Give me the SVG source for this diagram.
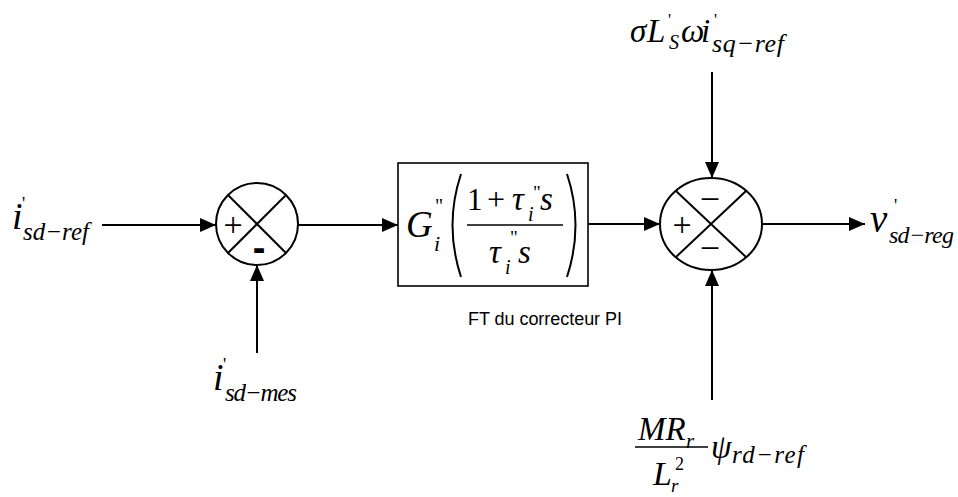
<svg xmlns="http://www.w3.org/2000/svg" width="958" height="497" viewBox="0 0 958 497">
<defs>
<marker id="ah" markerWidth="16" markerHeight="14" refX="16" refY="7" orient="auto" markerUnits="userSpaceOnUse"><path d="M0,0 L16,7 L0,14 z" fill="#000"/></marker>
<style>
.m{font-family:"Liberation Serif","Times New Roman",serif;font-style:italic;fill:#000}
.u{font-family:"Liberation Serif","Times New Roman",serif;font-style:normal;fill:#000}
.s{font-family:"Liberation Sans",Arial,sans-serif;fill:#000}
.ln{stroke:#000;stroke-width:2;fill:none}
.sh{stroke:#000;stroke-width:2;fill:#fff}
</style>
</defs>
<rect width="958" height="497" fill="#fff"/>
<g id="connectors">
<line class="ln" x1="102" y1="225" x2="216" y2="225" marker-end="url(#ah)"/>
<line class="ln" x1="257" y1="353" x2="257" y2="265" marker-end="url(#ah)"/>
<line class="ln" x1="298" y1="225" x2="398" y2="225" marker-end="url(#ah)"/>
<line class="ln" x1="588" y1="224" x2="660" y2="224" marker-end="url(#ah)"/>
<line class="ln" x1="712" y1="72" x2="712" y2="178" marker-end="url(#ah)"/>
<line class="ln" x1="712" y1="400" x2="712" y2="270" marker-end="url(#ah)"/>
<line class="ln" x1="763" y1="224" x2="865" y2="224" marker-end="url(#ah)"/>
</g>
<g id="in-ref">
<text class="m" x="12" y="229" font-size="38">i</text>
<text class="u" x="22" y="210" font-size="18">'</text>
<text class="m" x="23" y="240" font-size="25" textLength="66">sd−ref</text>
</g>
<g id="in-mes">
<text class="m" x="213" y="390" font-size="38">i</text>
<text class="u" x="223" y="371" font-size="18">'</text>
<text class="m" x="225" y="401" font-size="25" textLength="72">sd−mes</text>
</g>
<g id="sum1">
<circle class="sh" cx="257" cy="224" r="41"/>
<line class="ln" x1="228" y1="195" x2="286" y2="253"/>
<line class="ln" x1="286" y1="195" x2="228" y2="253"/>
<text class="u" x="233" y="236" font-size="34" text-anchor="middle">+</text>
<text class="s" x="259" y="261" font-size="38" font-weight="bold" text-anchor="middle">-</text>
</g>
<g id="pi">
<rect x="398" y="163" width="190" height="123" fill="#fff" stroke="#000" stroke-width="1.6"/>
<text class="m" x="406" y="237" font-size="37">G</text>
<text class="u" x="435" y="213" font-size="20">"</text>
<text class="m" x="434" y="251" font-size="22">i</text>
<path d="M461,174 Q444,225 461,277" class="ln" stroke-width="2.2"/>
<path d="M567,174 Q584,225 567,277" class="ln" stroke-width="2.2"/>
<text class="u" x="467" y="210" font-size="31">1</text>
<text class="u" x="487" y="210" font-size="32">+</text>
<text class="m" x="512" y="210" font-size="33">τ</text>
<text class="u" x="533" y="199" font-size="19">"</text>
<text class="m" x="528" y="221" font-size="20">i</text>
<text class="m" x="540" y="210" font-size="33">s</text>
<line x1="467" y1="225" x2="563" y2="225" stroke="#000" stroke-width="1.5"/>
<text class="m" x="489" y="263" font-size="33">τ</text>
<text class="u" x="510" y="244" font-size="19">"</text>
<text class="m" x="505" y="274" font-size="20">i</text>
<text class="m" x="518" y="263" font-size="33">s</text>
</g>
<g id="caption">
<text class="s" x="468" y="325" font-size="18" textLength="154">FT du correcteur PI</text>
</g>
<g id="sum2">
<ellipse class="sh" cx="711" cy="224" rx="51" ry="46"/>
<line class="ln" x1="676" y1="191" x2="746" y2="257"/>
<line class="ln" x1="746" y1="191" x2="676" y2="257"/>
<text class="u" x="682" y="236" font-size="34" text-anchor="middle">+</text>
<text class="u" x="710" y="211" font-size="36" text-anchor="middle">−</text>
<text class="u" x="710" y="260" font-size="36" text-anchor="middle">−</text>
</g>
<g id="top-in">
<text class="m" x="630" y="42" font-size="33">σ</text>
<text class="m" x="647" y="42" font-size="33">L</text>
<text class="u" x="668" y="25" font-size="17">'</text>
<text class="m" x="669" y="49" font-size="20">S</text>
<text class="m" x="681" y="42" font-size="33">ω</text>
<text class="m" x="701" y="42" font-size="33">i</text>
<text class="u" x="714" y="25" font-size="17">'</text>
<text class="m" x="712" y="52" font-size="26" textLength="72">sq−ref</text>
</g>
<g id="bottom-in">
<text class="m" x="638" y="440" font-size="33">MR</text>
<text class="m" x="686" y="448" font-size="21">r</text>
<line x1="635" y1="447" x2="708" y2="447" stroke="#000" stroke-width="1.4"/>
<text class="m" x="653" y="485" font-size="34">L</text>
<text class="u" x="675" y="470" font-size="18">2</text>
<text class="m" x="671" y="492" font-size="19">r</text>
<text class="m" x="711" y="458" font-size="33">ψ</text>
<text class="m" x="732" y="463" font-size="25" textLength="72">rd−ref</text>
</g>
<g id="out">
<text class="m" x="870" y="232" font-size="39">v</text>
<text class="u" x="894" y="212" font-size="18">'</text>
<text class="m" x="889" y="243" font-size="24" textLength="65">sd−reg</text>
</g>
</svg>
